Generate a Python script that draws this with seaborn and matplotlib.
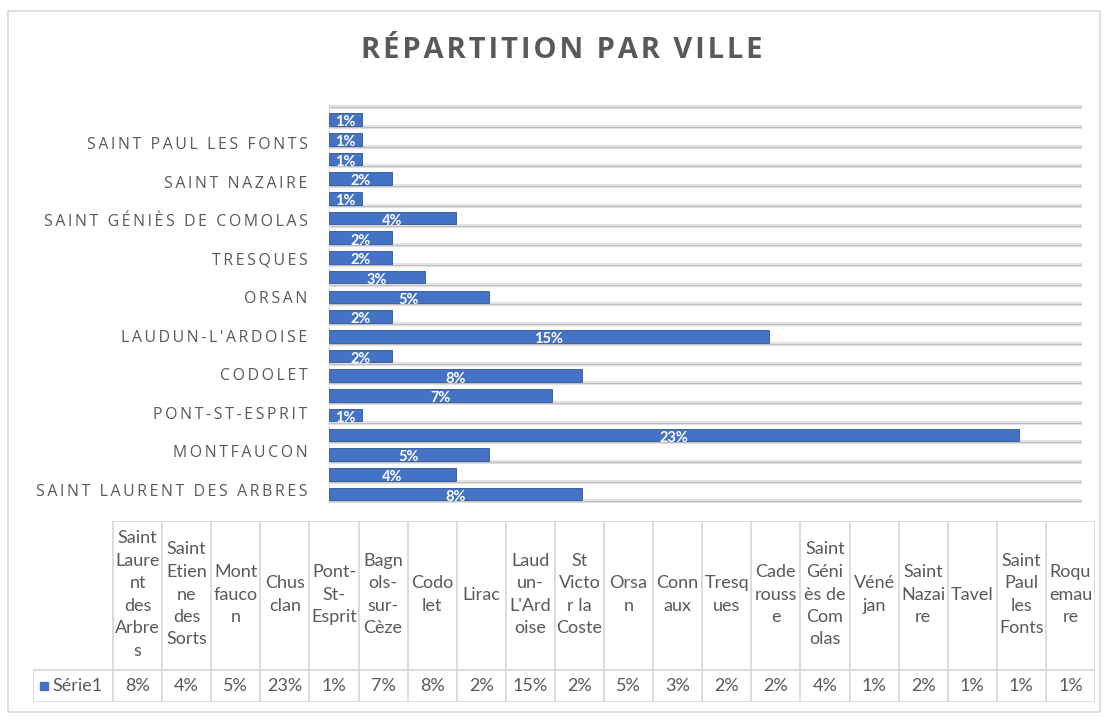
import matplotlib
matplotlib.use("Agg")
import matplotlib.pyplot as plt
import seaborn as sns
import pandas as pd
from matplotlib.patches import Rectangle

# ---- data ----
cities = ["Saint Laurent des Arbres", "Saint Etienne des Sorts", "Montfaucon", "Chusclan",
          "Pont-St-Esprit", "Bagnols-sur-Cèze", "Codolet", "Lirac", "Laudun-L'Ardoise",
          "St Victor la Coste", "Orsan", "Connaux", "Tresques", "Caderousse",
          "Saint Géniès de Comolas", "Vénéjan", "Saint Nazaire", "Tavel",
          "Saint Paul les Fonts", "Roquemaure"]
pct = [8.4, 4.2, 5.3, 22.9, 1.1, 7.4, 8.4, 2.1, 14.6, 2.1,
       5.3, 3.2, 2.1, 2.1, 4.2, 1.1, 2.1, 1.1, 1.1, 1.1]
table_headers = ["Saint\nLaure\nnt\ndes\nArbre\ns", "Saint\nEtien\nne\ndes\nSorts", "Mont\nfauco\nn",
                 "Chus\nclan", "Pont-\nSt-\nEsprit", "Bagn\nols-\nsur-\nCèze", "Codo\nlet", "Lirac",
                 "Laud\nun-\nL'Ard\noise", "St\nVicto\nr la\nCoste", "Orsa\nn", "Conn\naux",
                 "Tresq\nues", "Cade\nrouss\ne", "Saint\nGéni\nès de\nCom\nolas", "Véné\njan",
                 "Saint\nNazai\nre", "Tavel", "Saint\nPaul\nles\nFonts", "Roqu\nemau\nre"]
series_name = "Série1"
title = "RÉPARTITION PAR VILLE"

W, H = 1108, 720
BLUE = "#4472C4"
GRAY = "#595959"

sns.set_style("white")
plt.rcParams["font.family"] = ["Lato", "DejaVu Sans"]
SPACED_FONT = ["Open Sans", "DejaVu Sans"]


def spaced(s, sp="\u2009"):
    return sp.join(s)


df = pd.DataFrame({"ville": cities, "pct": pct})
order = cities[::-1]

fig = plt.figure(figsize=(W / 100, H / 100), dpi=100)

# outer frame
fig.patches.append(Rectangle((8 / W, 8 / H), (1100 - 8) / W, (712 - 11) / H,
                             transform=fig.transFigure, fill=False,
                             edgecolor="#d9d9d9", lw=1.2))

fig.text(562 / W, 1 - 51 / H, spaced(title, "\u200a"), ha="center", va="center",
         fontsize=21, fontweight="bold", color=GRAY, family=SPACED_FONT)

# axes: bar centers at 119.5 px (top) .. 494 px (bottom)
step = (494 - 119.5) / 19
ytop, ybot = -0.78, 19.45
top_px = 119.5 + ytop * step
bot_px = 119.5 + ybot * step
ax = fig.add_axes([329 / W, 1 - bot_px / H, 753 / W, (bot_px - top_px) / H])
sns.barplot(data=df, y="ville", x="pct", order=order, orient="h", color=BLUE,
            saturation=1, width=0.64, ax=ax, edgecolor="#2f5597", linewidth=0.6, zorder=3)
ax.set_xlim(0, 25)
ax.set_ylim(ybot, ytop)

for k in range(-1, 20):
    y = k + 0.38
    ax.axhline(y, color="#e3e3e3", lw=3, zorder=1)
    ax.axhline(y, color="#bfbfbf", lw=0.8, zorder=1.5)

for p, v in zip(ax.patches, [pct[cities.index(c)] for c in order]):
    ax.text(p.get_width() / 2, p.get_y() + p.get_height() * 0.72,
            f"{round(v)}%", ha="center", va="center", color="white",
            fontsize=10.5, fontweight="bold", zorder=5)

ax.set_yticks([])
ax.set_xticks([])
ax.set_xlabel("")
ax.set_ylabel("")
# category labels (every other one), as in the reference
for i, c in enumerate(order):
    j = cities.index(c)
    if j % 2 == 0:
        off = 0.3 - 0.4 * (i - 1) / 18
        ax.text(-0.0285, i + off, spaced(c.upper()), transform=ax.get_yaxis_transform(),
                ha="right", va="center", fontsize=11.4, color=GRAY, family=SPACED_FONT)
for s in ["top", "right", "bottom"]:
    ax.spines[s].set_visible(False)
ax.spines["left"].set_color("#d9d9d9")

# ---- data table ----
colw = (1095 - 113) / 20
lw_units = 80 / colw
at = fig.add_axes([33 / W, 1 - 702 / H, (1095 - 33) / W, (702 - 521) / H])
at.set_xlim(-lw_units, 20)
at.set_ylim(0, 181)
at.axis("off")
lc = "#d9d9d9"
for i in range(21):
    at.plot([i, i], [0, 181], color=lc, lw=1.3)
at.plot([-lw_units, -lw_units], [0, 32], color=lc, lw=1.3)
at.plot([0, 20], [181, 181], color=lc, lw=1.3)
at.plot([-lw_units, 20], [32, 32], color=lc, lw=1.3)
at.plot([-lw_units, 20], [0.5, 0.5], color=lc, lw=1.3)
for i, (h, v) in enumerate(zip(table_headers, pct)):
    at.text(i + 0.5, (32 + 181) / 2 + 1, h, ha="center", va="center", fontsize=13,
            color=GRAY, linespacing=1.5)
    at.text(i + 0.5, 16, f"{round(v)}%", ha="center", va="center", fontsize=13, color=GRAY)
at.add_patch(Rectangle((-lw_units + 7 / colw, 12), 8 / colw, 8, color=BLUE))
at.text(-lw_units + 19 / colw, 16, series_name, ha="left", va="center", fontsize=13, color=GRAY)

fig.savefig("out.png", dpi=100)
